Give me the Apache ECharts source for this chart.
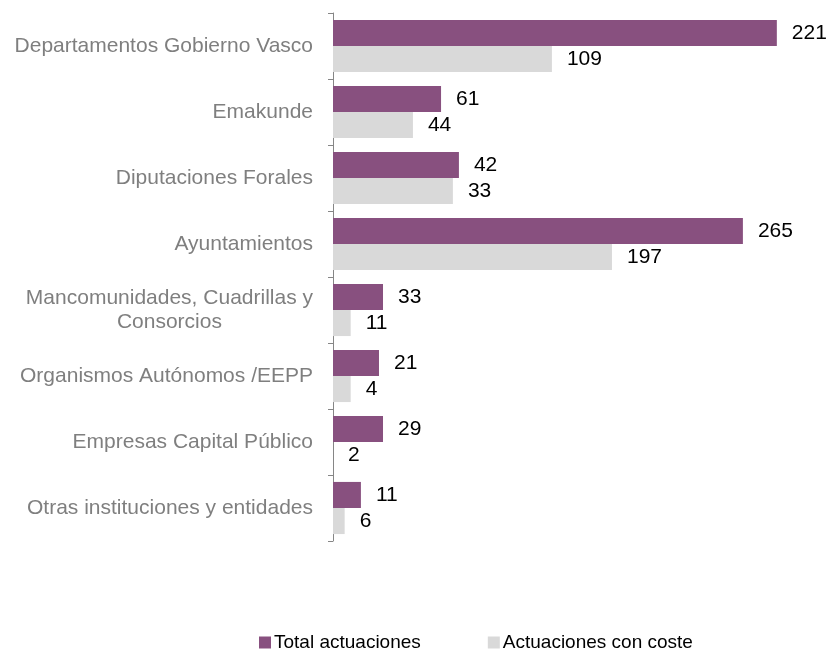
<!DOCTYPE html>
<html>
<head>
<meta charset="utf-8">
<script src="https://cdn.jsdelivr.net/npm/echarts@6/dist/echarts.min.js"></script>
<style>
html,body{margin:0;padding:0;background:#fff;}
#chart{width:829px;height:653px;}
</style>
</head>
<body>
<div id="chart"></div>
<script>
// Categories (top to bottom)
var categories = [
  "Departamentos Gobierno Vasco",
  "Emakunde",
  "Diputaciones Forales",
  "Ayuntamientos",
  "Mancomunidades, Cuadrillas y\nConsorcios",
  "Organismos Autónomos /EEPP",
  "Empresas Capital Público",
  "Otras instituciones y entidades"
];
var seriesNames = ["Total actuaciones", "Actuaciones con coste"];
// Bar lengths as drawn in the picture (axis units)
var totalBars = [221, 53.8, 62.7, 204.1, 24.9, 22.9, 24.9, 13.9];
var costeBars = [109, 39.8, 59.7, 138.9, 8.8, 8.8, 0, 5.8];
// Data labels as printed in the picture
var totalLabels = [221, 61, 42, 265, 33, 21, 29, 11];
var costeLabels = [109, 44, 33, 197, 11, 4, 2, 6];

var FONT = '"Liberation Sans", Arial, sans-serif';
var chart = echarts.init(document.getElementById('chart'), null, {renderer: 'canvas'});

function valueLabel(arr) {
  return {
    show: true,
    position: 'right',
    distance: 15,
    color: '#000',
    fontSize: 21,
    fontFamily: FONT,
    formatter: function (p) { return String(arr[p.dataIndex]); }
  };
}

chart.setOption({
  animation: false,
  backgroundColor: '#fff',
  grid: {left: 333, top: 13, height: 528, width: 482, containLabel: false},
  xAxis: {
    type: 'value', min: 0, max: 240, show: false
  },
  yAxis: {
    type: 'category',
    data: categories,
    inverse: true,
    axisLine: {show: true, lineStyle: {color: '#868686', width: 1}},
    axisTick: {show: true, length: 5, lineStyle: {color: '#868686'}},
    axisLabel: {
      margin: 20,
      fontFamily: FONT,
      fontSize: 21,
      color: '#7f7f7f',
      formatter: function (v) {
        return v.split('\n').map(function (s) { return '{c|' + s + '}'; }).join('\n');
      },
      rich: {
        c: {fontFamily: FONT, fontSize: 21, color: '#7f7f7f', align: 'center', lineHeight: 24}
      }
    },
    splitLine: {show: false}
  },
  legend: {
    left: 254, top: 628,
    itemWidth: 12, itemHeight: 12, itemGap: 67,
    icon: 'rect',
    textStyle: {fontFamily: FONT, fontSize: 19, color: '#000', padding: [0, 0, 0, -2]},
    data: seriesNames
  },
  series: [
    {
      name: seriesNames[0], type: 'bar', data: totalBars,
      itemStyle: {color: '#88507F'},
      barGap: '0%', barCategoryGap: '21%',
      label: valueLabel(totalLabels)
    },
    {
      name: seriesNames[1], type: 'bar', data: costeBars,
      itemStyle: {color: '#D9D9D9'},
      barGap: '0%', barCategoryGap: '21%',
      label: valueLabel(costeLabels)
    }
  ]
});
</script>
</body>
</html>
